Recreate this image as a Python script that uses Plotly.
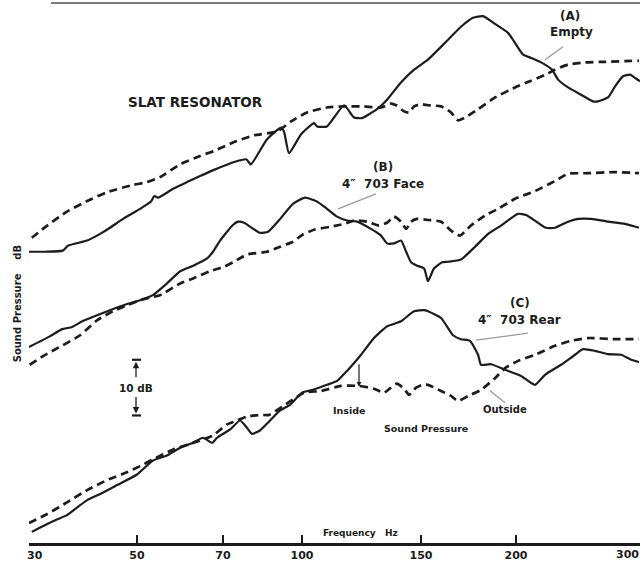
import numpy as np
import plotly.graph_objects as go

# ---------------- frequency axis of the original chart ----------------
TICK_HZ = [30, 50, 70, 100, 150, 200, 300]
TICK_LABELS = ["30", "50", "70", "100", "150", "200", "300"]
# the printed chart paper is not a clean log scale: scale units of each tick
TICK_POS = [0, 108, 194, 273, 392, 487, 611]

# ---------------- (A) Empty ----------------
a_solid_hz = [30.0, 32.4, 35.2, 36.1, 39.5, 42.0, 44.0, 46.8, 50.6, 52.8, 53.5, 54.3, 57.6, 60.8,
              64.0, 67.6, 73.6, 77.7, 79.4, 85.4, 91.0, 92.2, 94.3, 99.6, 104.2, 105.3, 108.9,
              115.4, 119.4, 122.7, 129.1, 133.6, 140.1, 146.5, 153.2, 161.3, 169.3, 175.6, 181.0,
              187.7, 195.2, 199.4, 204.7, 210.1, 217.1, 225.0, 229.5, 237.1, 247.4, 257.3, 261.5,
              270.2, 276.5, 283.8, 290.4, 296.1, 300.0]
a_solid_db = [52.3, 52.3, 52.5, 53.4, 54.3, 55.5, 56.6, 58.2, 60.0, 61.3, 62.3, 62.0, 63.6, 64.8,
              65.9, 67.0, 68.4, 68.9, 68.0, 72.5, 74.6, 73.9, 70.0, 73.4, 75.4, 74.8, 74.8,
              78.6, 76.4, 76.3, 77.9, 79.6, 82.7, 85.0, 86.8, 89.8, 92.7, 94.3, 94.6,
              93.2, 91.6, 89.8, 87.7, 87.1, 86.3, 85.0, 83.2, 81.8, 80.5, 79.3, 79.3,
              80.0, 82.0, 83.8, 84.1, 83.4, 82.9]
a_dash_hz = [30.4, 32.7, 35.9, 39.5, 43.4, 49.1, 52.0, 54.7, 59.2, 64.0, 67.6, 73.6, 80.5, 89.4,
             95.2, 101.7, 108.9, 116.6, 123.5, 130.9, 135.4, 137.8, 141.6, 144.0, 146.5, 150.0,
             153.2, 159.4, 164.3, 167.8, 171.4, 178.3, 187.7, 199.4, 210.1, 222.1, 227.2, 237.1,
             250.6, 267.6, 299.0]
a_dash_db = [54.8, 57.0, 59.5, 61.4, 63.0, 64.3, 64.8, 65.7, 68.0, 69.5, 70.4, 72.0, 73.2, 73.9,
             75.7, 77.3, 78.2, 78.4, 78.4, 78.2, 78.9, 78.6, 77.5, 77.3, 78.4, 78.8,
             78.6, 78.4, 77.3, 75.9, 76.4, 77.9, 80.0, 81.8, 83.0, 84.3, 85.0, 85.9,
             86.3, 86.4, 86.6]

# ---------------- (B) 4" 703 Face ----------------
b_solid_hz = [30.0, 33.1, 35.1, 36.8, 38.6, 41.4, 44.0, 47.7, 50.6, 53.2, 56.2, 59.2, 62.3, 65.8,
              67.3, 69.2, 71.3, 73.2, 74.9, 77.0, 79.1, 82.7, 85.8, 90.6, 96.0, 101.0, 105.3,
              108.9, 112.7, 116.6, 120.6, 126.5, 130.9, 133.6, 136.8, 140.1, 142.6, 145.0, 148.0,
              151.4, 153.2, 156.0, 159.9, 162.8, 169.3, 176.7, 183.8, 191.1, 201.3, 206.7, 214.9,
              220.6, 227.2, 237.1, 245.0, 255.6, 270.2, 285.7, 299.0]
b_solid_db = [35.2, 37.1, 38.4, 38.8, 39.8, 40.9, 41.8, 42.9, 43.6, 44.5, 46.6, 48.8, 49.8, 51.1,
              52.3, 54.3, 55.9, 57.1, 57.7, 57.5, 56.8, 55.7, 55.9, 58.2, 60.9, 62.0, 61.3,
              60.0, 58.6, 57.9, 57.7, 56.4, 55.2, 53.8, 53.8, 54.3, 52.3, 50.4, 49.8,
              49.3, 47.0, 49.3, 50.4, 50.5, 50.9, 53.2, 55.5, 57.0, 59.1, 58.9, 57.5,
              56.6, 56.6, 57.7, 58.2, 58.2, 57.7, 57.3, 56.6]
b_dash_hz = [30.1, 32.1, 35.2, 38.2, 41.4, 44.6, 47.7, 50.6, 52.6, 54.7, 59.2, 62.3, 66.5, 70.3,
             73.6, 78.0, 85.4, 90.6, 96.0, 100.3, 104.5, 110.4, 115.4, 119.4, 124.8, 130.0,
             133.6, 136.8, 140.1, 142.6, 145.0, 148.0, 153.2, 159.4, 164.3, 168.8, 174.5, 182.1,
             189.4, 199.4, 212.8, 227.2, 237.1, 253.1, 276.5, 299.0]
b_dash_db = [32.0, 33.6, 35.5, 37.3, 40.0, 41.6, 42.7, 43.6, 44.1, 44.5, 46.6, 47.5, 48.8, 49.6,
             50.5, 51.8, 52.3, 53.2, 54.1, 55.4, 56.3, 56.8, 57.3, 57.9, 57.7, 57.0,
             57.5, 58.6, 57.7, 56.4, 57.7, 58.2, 58.0, 57.7, 56.1, 55.2, 57.0, 58.8,
             60.0, 61.8, 63.2, 65.0, 66.3, 66.4, 66.6, 66.4]

# ---------------- (C) 4" 703 Rear ----------------
c_solid_hz = [30.4, 32.7, 34.4, 35.9, 37.7, 39.5, 42.0, 45.5, 50.0, 53.2, 56.2, 59.2, 62.3, 64.7,
              67.1, 68.4, 72.3, 75.6, 78.0, 79.8, 82.7, 86.6, 90.6, 94.7, 100.0, 103.8, 108.9,
              112.7, 116.6, 122.3, 127.8, 133.6, 140.1, 146.5, 151.4, 153.2, 159.4, 165.3, 169.3,
              174.0, 178.3, 179.9, 185.4, 193.5, 203.3, 212.8, 219.9, 231.7, 242.6, 249.0, 259.0,
              270.2, 282.0, 291.4, 299.0]
c_solid_db = [2.0, 3.4, 4.3, 5.0, 6.4, 7.7, 8.8, 10.4, 12.3, 14.8, 15.7, 17.1, 18.0, 18.9,
              18.0, 18.9, 20.4, 22.0, 20.7, 19.6, 20.2, 22.0, 23.8, 24.8, 27.0, 27.5, 28.4,
              29.1, 30.9, 33.8, 36.8, 38.9, 39.8, 41.6, 41.8, 41.6, 40.4, 37.3, 36.6,
              36.3, 33.8, 32.0, 32.1, 31.1, 30.0, 28.4, 30.2, 32.0, 33.8, 34.8, 34.5,
              33.9, 33.8, 32.9, 32.5]
c_dash_hz = [30.0, 32.7, 35.9, 39.5, 43.4, 47.7, 50.6, 53.2, 57.6, 64.0, 67.3, 71.3, 73.6, 78.0,
             83.1, 86.2, 92.6, 100.7, 106.7, 114.2, 121.5, 127.8, 132.3, 135.4, 138.2, 141.6,
             144.0, 147.5, 150.5, 153.2, 159.4, 164.3, 167.8, 173.0, 179.9, 187.7, 193.5, 201.3,
             212.8, 227.2, 239.4, 253.1, 276.5, 299.0]
c_dash_db = [3.6, 5.2, 7.3, 9.5, 11.3, 12.7, 13.8, 15.0, 16.8, 18.4, 19.3, 21.3, 21.8, 22.7,
             23.0, 23.0, 24.8, 27.0, 27.3, 28.2, 28.2, 27.7, 27.0, 27.9, 28.6, 27.7,
             26.6, 27.9, 28.4, 28.4, 27.3, 26.4, 25.5, 26.4, 27.5, 29.6, 31.4, 32.7,
             33.8, 35.4, 36.3, 36.8, 36.6, 36.6]

SCALE_BAR_DB = 10
SCALE_BAR_BASE_DB = 22.9

# ---------------- geometry / style ----------------
W, H = 642, 562
ML, MR, MT, MB = 29, 2, 0, 16
PW, PH = W - ML - MR, H - MT - MB
PX_PER_DB = 5.6
INK = "#1c1c1c"
GREY = "#9a9a9a"
FONT = "DejaVu Sans"
NB = "\u00a0"
TICK_FONT = dict(family=FONT, size=11, color=INK, weight="bold")


def fpos(hz):
    return np.interp(np.log10(np.asarray(hz, float)), np.log10(TICK_HZ), TICK_POS)


def px(x):   # layout helper: page pixel -> paper x
    return (x - ML) / PW


def py(y):   # layout helper: page pixel -> paper y
    return (MT + PH - y) / PH


fig = go.Figure()
for hz, db, dashed in [(a_dash_hz, a_dash_db, True), (a_solid_hz, a_solid_db, False),
                       (b_dash_hz, b_dash_db, True), (b_solid_hz, b_solid_db, False),
                       (c_dash_hz, c_dash_db, True), (c_solid_hz, c_solid_db, False)]:
    fig.add_trace(go.Scatter(
        x=fpos(hz), y=db, mode="lines", hoverinfo="skip", showlegend=False,
        line=dict(color=INK, width=2.7 if dashed else 2.2, shape="spline", smoothing=0.5,
                  dash="8px,5px" if dashed else "solid")))

ann = []


def label(text, x, y, size, **kw):
    d = dict(text=text, x=px(x), y=py(y), xref="paper", yref="paper", showarrow=False,
             xanchor="center", yanchor="middle",
             font=dict(family=FONT, size=size, color=INK, weight="bold"))
    d.update(kw)
    ann.append(d)


label("SLAT RESONATOR", 195, 103, 13.5)
label("(A)", 570, 16, 12)
label("Empty", 571, 32, 12)
label("(B)", 383, 168, 12)
label("4\u2033" + NB * 2 + "703 Face", 383, 185, 12)
label("(C)", 520, 305, 12)
label("4\u2033" + NB * 2 + "703 Rear", 519, 322, 12)
label("Inside", 349, 413, 9.5)
label("Outside", 505, 412, 10)
label("Sound Pressure", 426, 431, 9.5)
label("Frequency" + NB * 3 + "Hz", 360, 536, 9)
label("Sound Pressure" + NB * 4 + "dB", 17, 306, 10, textangle=-90)
# last tick label sits inside the page edge, as printed
ann.append(dict(text=TICK_LABELS[-1], x=1.0, y=0, xref="paper", yref="paper",
                xanchor="right", yanchor="top", yshift=-3, xshift=1, showarrow=False,
                font=TICK_FONT))

# 10 dB scale bar (in data units)
bar_x = px(136)
ann.append(dict(text="10 dB", x=bar_x, y=SCALE_BAR_BASE_DB + SCALE_BAR_DB / 2, xref="paper",
                yref="y", showarrow=False, xanchor="center", yanchor="middle",
                font=dict(family=FONT, size=10.5, color=INK, weight="bold")))
for tip, off in [(SCALE_BAR_BASE_DB + SCALE_BAR_DB, 19), (SCALE_BAR_BASE_DB, -20)]:
    ann.append(dict(text="", x=bar_x, y=tip, xref="paper", yref="y", ax=0, ay=off,
                    showarrow=True, arrowhead=2, arrowsize=1, arrowwidth=1.3,
                    arrowcolor=INK, standoff=2))

# "Inside" pointer arrow
ann.append(dict(text="", x=px(359), y=py(389), xref="paper", yref="paper", ax=0, ay=-24,
                showarrow=True, arrowhead=2, arrowsize=0.8, arrowwidth=1.2, arrowcolor=INK))

shapes = []
for yv in [SCALE_BAR_BASE_DB, SCALE_BAR_BASE_DB + SCALE_BAR_DB]:
    shapes.append(dict(type="line", xref="paper", yref="y", x0=px(132), x1=px(141),
                       y0=yv, y1=yv, line=dict(color=INK, width=2.2)))
# leader lines
for (x0, y0, x1, y1) in [(563, 47, 545, 60), (376, 195, 338, 210), (528, 335, 476, 342),
                         (490, 393, 505, 405)]:
    shapes.append(dict(type="line", xref="paper", yref="paper", x0=px(x0), y0=py(y0),
                       x1=px(x1), y1=py(y1), line=dict(color=GREY, width=1.3)))
# top border remnant of the original page
shapes.append(dict(type="line", xref="paper", yref="paper", x0=px(51), x1=1.0,
                   y0=py(3), y1=py(3), line=dict(color="#7a7a7a", width=2)))

tick_text = [NB * 3 + TICK_LABELS[0]] + TICK_LABELS[1:-1] + [""]

fig.update_layout(
    width=W, height=H, autosize=False,
    margin=dict(l=ML, r=MR, t=MT, b=MB, pad=0),
    paper_bgcolor="white", plot_bgcolor="white",
    showlegend=False,
    annotations=ann, shapes=shapes,
    xaxis=dict(range=[TICK_POS[0], TICK_POS[-1]], tickmode="array",
               tickvals=fpos(TICK_HZ), ticktext=tick_text,
               ticks="inside", ticklen=8, tickwidth=1.2, tickcolor=INK,
               showline=True, linewidth=2.6, linecolor=INK, mirror=False,
               showgrid=False, zeroline=False, fixedrange=True,
               tickfont=TICK_FONT),
    yaxis=dict(range=[0, PH / PX_PER_DB], visible=False, showgrid=False,
               zeroline=False, fixedrange=True),
)

fig.write_html(
    "out.html",
    config={"displayModeBar": False, "staticPlot": True},
    post_script="document.body.style.margin='0';document.body.style.padding='0';"
                "document.documentElement.style.overflow='hidden';",
)
